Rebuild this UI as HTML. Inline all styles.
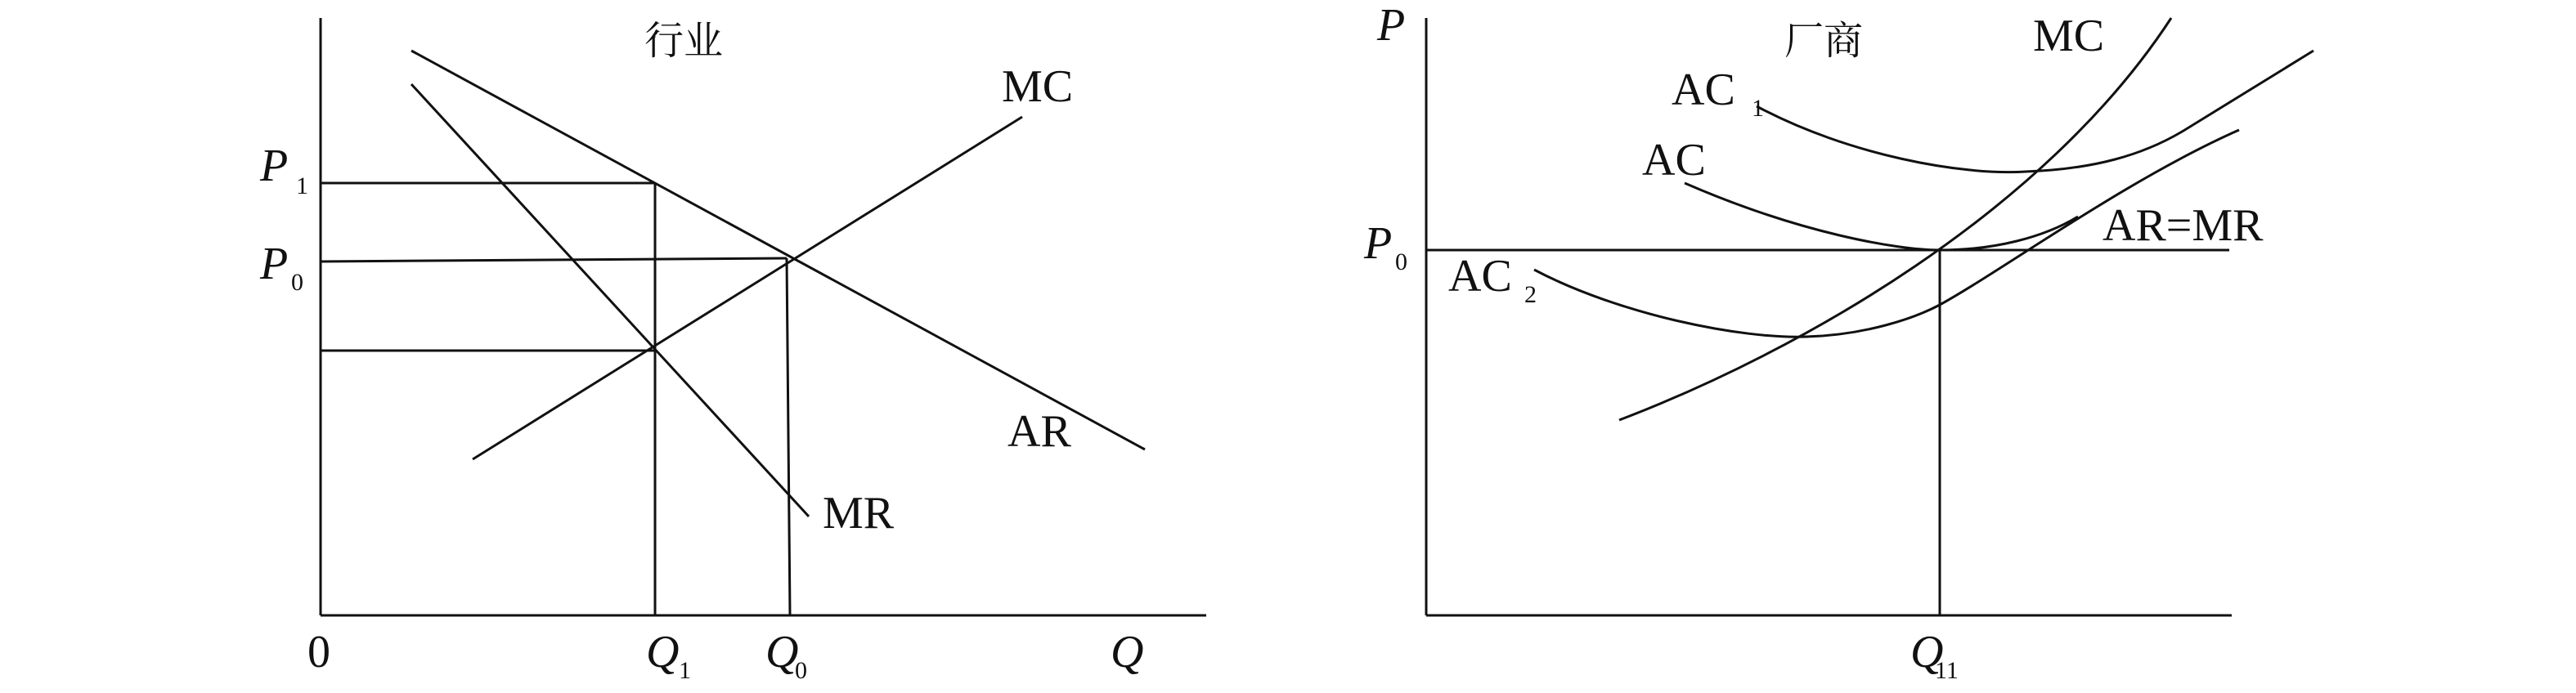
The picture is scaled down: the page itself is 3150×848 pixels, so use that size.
<!DOCTYPE html>
<html><head><meta charset="utf-8"><style>
html,body{margin:0;padding:0;background:#fff;}
svg{display:block;}
text{font-family:"Liberation Serif","Noto Serif CJK SC",serif;fill:#111;}
.i{font-style:italic;}
</style></head><body>
<svg width="3150" height="848" viewBox="0 0 3150 848" xmlns="http://www.w3.org/2000/svg">
<rect width="3150" height="848" fill="#fff"/>
<g stroke="#111" stroke-width="3" fill="none">
<line x1="392" y1="22" x2="392" y2="753"/>
<line x1="392" y1="753" x2="1475" y2="753"/>
<line x1="392" y1="224" x2="801" y2="224"/>
<line x1="801" y1="224" x2="801" y2="753"/>
<line x1="392" y1="320" x2="962" y2="316"/>
<line x1="962" y1="316" x2="966" y2="753"/>
<line x1="392" y1="429" x2="801" y2="429"/>
<line x1="503" y1="62" x2="1400" y2="550"/>
<line x1="503" y1="103" x2="989" y2="632"/>
<line x1="578" y1="562" x2="1250" y2="143"/>
<line x1="1744" y1="22" x2="1744" y2="753"/>
<line x1="1744" y1="753" x2="2729" y2="753"/>
<line x1="1744" y1="306" x2="2726" y2="306"/>
<line x1="2372" y1="306" x2="2372" y2="753"/>
<path d="M2148,130 C2260,190 2400,215 2477,210 C2560,207 2620,190 2670,160 L2829,62"/>
<path d="M2060,224 C2200,285 2320,306 2372,306 C2440,306 2500,290 2541,265"/>
<path d="M1876,330 C1980,385 2130,415 2209,412 C2280,410 2340,390 2372,373 C2450,330 2600,220 2738,159"/>
<path d="M1980,514 C2200,430 2500,260 2655,22"/>
</g>
<text x="836" y="66" font-size="48" text-anchor="middle">行业</text>
<text x="1225" y="124" font-size="56">MC</text>
<text x="1232" y="546" font-size="56">AR</text>
<text x="1006" y="646" font-size="56">MR</text>
<text x="318" y="221" font-size="56" class="i">P</text><text x="362" y="237" font-size="30">1</text>
<text x="318" y="341" font-size="56" class="i">P</text><text x="356" y="355" font-size="30">0</text>
<text x="376" y="816" font-size="56">0</text>
<text x="790" y="816" font-size="56" class="i">Q</text><text x="830" y="830" font-size="30">1</text>
<text x="936" y="816" font-size="56" class="i">Q</text><text x="972" y="830" font-size="30">0</text>
<text x="1358" y="816" font-size="56" class="i">Q</text>
<text x="1684" y="49" font-size="56" class="i">P</text>
<text x="2230" y="66" font-size="48" text-anchor="middle">厂商</text>
<text x="2486" y="62" font-size="56">MC</text>
<text x="2044" y="128" font-size="56">AC</text><text x="2142" y="142" font-size="30">1</text>
<text x="2008" y="214" font-size="56">AC</text>
<text x="1771" y="356" font-size="56">AC</text><text x="1864" y="370" font-size="30">2</text>
<text x="2571" y="294" font-size="56">AR=MR</text>
<text x="1668" y="316" font-size="56" class="i">P</text><text x="1706" y="330" font-size="30">0</text>
<text x="2336" y="816" font-size="56" class="i">Q</text><text x="2366" y="830" font-size="30">11</text>
</svg>
</body></html>
